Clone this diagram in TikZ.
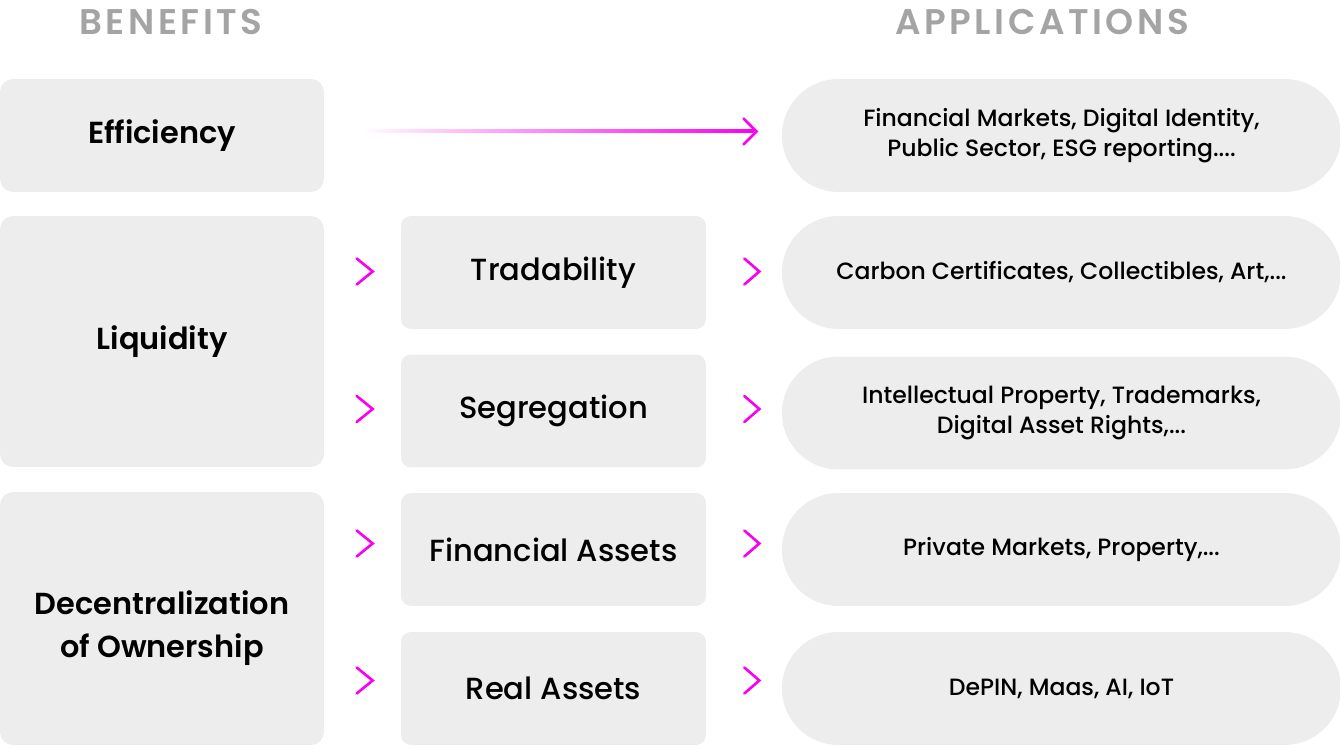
\documentclass[tikz,border=0pt]{standalone}
\usepackage{fontspec}
\setmainfont{Poppins}
\newfontfamily\semifont{Poppins SemiBold}
\newfontfamily\medfont{Poppins Medium}
\newfontfamily\headfont[LetterSpace=10]{Poppins SemiBold}
\usetikzlibrary{shapes.misc,calc}
\definecolor{boxgray}{HTML}{EDEDED}
\definecolor{headgray}{HTML}{A4A4A4}
\definecolor{pinkarrow}{HTML}{FA00F0}
\tikzset{
  head/.style={text=headgray, font=\headfont\fontsize{20.3}{24}\selectfont},
  benefit/.style={fill=boxgray, rounded corners=0.26cm, minimum width=6.48cm,
    align=center, font=\semifont\fontsize{17.3}{24}\selectfont},
  feature/.style={fill=boxgray, rounded corners=0.2cm, minimum width=6.1cm,
    minimum height=2.26cm, font=\medfont\fontsize{17.4}{20}\selectfont},
  app/.style={fill=boxgray, rounded rectangle, minimum width=11.42cm,
    minimum height=2.26cm, align=center, font=\medfont\fontsize{13.4}{17}\selectfont},
  chev/.style={draw=pinkarrow, line width=1.5pt, line cap=round}
}
\begin{document}
\begin{tikzpicture}[x=0.02cm, y=-0.02cm]
  \useasboundingbox (0,0) rectangle (1340,749);
  % headings
  \node[head] (benhead) at (171,22) {BENEFITS};
  \node[head] (apphead) at (1042,22) {APPLICATIONS};
  % benefits
  \node[benefit, minimum height=2.26cm] (eff) at (162,135.5) {Efficiency};
  \node[benefit, minimum height=5.02cm] (liq) at (162,341.5) {Liquidity};
  \node[benefit, minimum height=5.06cm] (dec) at (162,618.5)
    {\raisebox{-0.18cm}[\height][\depth]{\begin{tabular}{@{}c@{}}Decentralization\\of Ownership\end{tabular}}};
  % features
  \node[feature] (trad) at (553.5,272.5) {Tradability};
  \node[feature] (seg) at (553.5,411) {Segregation};
  \node[feature] (fin) at (553.5,549.5) {Financial Assets};
  \node[feature] (real) at (553.5,688.5) {Real Assets};
  % applications
  \node[app] (a1) at (1061.5,135.5) {Financial Markets, Digital Identity,\\Public Sector, ESG reporting....};
  \node[app] (a2) at (1061.5,272.5) {Carbon Certificates, Collectibles, Art,...};
  \node[app] (a3) at (1061.5,413) {Intellectual Property, Trademarks,\\Digital Asset Rights,...};
  \node[app] (a4) at (1061.5,549.5) {Private Markets, Property,...};
  \node[app] (a5) at (1061.5,688.5) {DePIN, Maas, AI, IoT};
  % efficiency arrow
  \coordinate (effstart) at ($(eff.east)+(36,-4)$);
  \coordinate (efftip) at ($(a1.west)+(-25,-4)$);
  \shade[left color=white, right color=pinkarrow] ($(effstart)+(0,-1.5)$) rectangle ($(efftip)+(-3,1.5)$);
  \draw[chev] ($(efftip)+(-13,-13)$) -- (efftip) -- ($(efftip)+(-13,13)$);
  % chevrons
  \foreach \n/\dy in {trad/-1,seg/-2,fin/-6,real/-8} {
    \draw[chev] ($(\n.west)+(-44,\dy-13)$) -- ($(\n.west)+(-28,\dy)$) -- ($(\n.west)+(-44,\dy+13)$);
    \draw[chev] ($(\n.east)+(38,\dy-13)$) -- ($(\n.east)+(53,\dy)$) -- ($(\n.east)+(38,\dy+13)$);
  }
\end{tikzpicture}
\end{document}
